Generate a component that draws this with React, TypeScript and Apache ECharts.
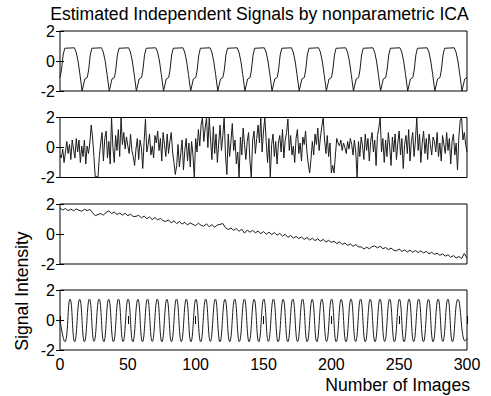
import React, { useEffect, useRef } from "react";
import * as echarts from "echarts";

const TITLE = "Estimated Independent Signals by nonparametric ICA";
const X_LABEL = "Number of Images";
const Y_LABEL = "Signal Intensity";

const X_MIN = 0;
const X_MAX = 300;
const X_STEP = 50;
const Y_MIN = -2;
const Y_MAX = 2;
const Y_STEP = 2;

// Signal 1: square-like wave, vertices [image, value]
const sig1: number[][] = [
  [0, -1.1], [1.1, -0.6], [2.3, 0.4], [3.5, 0.85], [10.6, 0.88], [11.9, 0.6], [13.3, 0.0], [14.7, -0.9],
  [16.3, -2], [18.3, -1.2], [20.1, -1.1], [21.1, -0.6], [22.3, 0.4], [23.5, 0.85], [30.6, 0.88], [31.9, 0.6], [33.3, 0], [34.7, -0.9],
  [36.3, -2], [38.3, -1.2], [40.1, -1.1], [41.1, -0.6], [42.3, 0.4], [43.5, 0.85], [50.6, 0.88], [51.9, 0.6], [53.3, 0], [54.7, -0.9],
  [56.3, -2], [58.3, -1.2], [60.1, -1.1], [61.1, -0.6], [62.3, 0.4], [63.5, 0.85], [70.6, 0.88], [71.9, 0.6], [73.3, 0], [74.7, -0.9],
  [76.3, -2], [78.3, -1.2], [80.1, -1.1], [81.1, -0.6], [82.3, 0.4], [83.5, 0.85], [90.6, 0.88], [91.9, 0.6], [93.3, 0], [94.7, -0.9],
  [96.3, -2], [98.3, -1.2], [100.1, -1.1], [101.1, -0.6], [102.3, 0.4], [103.5, 0.85], [110.6, 0.88], [111.9, 0.6], [113.3, 0], [114.7, -0.9],
  [116.3, -2], [118.3, -1.2], [120.1, -1.1], [121.1, -0.6], [122.3, 0.4], [123.5, 0.85], [130.6, 0.88], [131.9, 0.6], [133.3, 0], [134.7, -0.9],
  [136.3, -2], [138.3, -1.2], [140.1, -1.1], [141.1, -0.6], [142.3, 0.4], [143.5, 0.85], [150.6, 0.88], [151.9, 0.6], [153.3, 0], [154.7, -0.9],
  [156.3, -2], [158.3, -1.2], [160.1, -1.1], [161.1, -0.6], [162.3, 0.4], [163.5, 0.85], [170.6, 0.88], [171.9, 0.6], [173.3, 0], [174.7, -0.9],
  [176.3, -2], [178.3, -1.2], [180.1, -1.1], [181.1, -0.6], [182.3, 0.4], [183.5, 0.85], [190.6, 0.88], [191.9, 0.6], [193.3, 0], [194.7, -0.9],
  [196.3, -2], [198.3, -1.2], [200.1, -1.1], [201.1, -0.6], [202.3, 0.4], [203.5, 0.85], [210.6, 0.88], [211.9, 0.6], [213.3, 0], [214.7, -0.9],
  [216.3, -2], [218.3, -1.2], [220.1, -1.1], [221.1, -0.6], [222.3, 0.4], [223.5, 0.85], [230.6, 0.88], [231.9, 0.6], [233.3, 0], [234.7, -0.9],
  [236.3, -2], [238.3, -1.2], [240.1, -1.1], [241.1, -0.6], [242.3, 0.4], [243.5, 0.85], [250.6, 0.88], [251.9, 0.6], [253.3, 0], [254.7, -0.9],
  [256.3, -2], [258.3, -1.2], [260.1, -1.1], [261.1, -0.6], [262.3, 0.4], [263.5, 0.85], [270.6, 0.88], [271.9, 0.6], [273.3, 0], [274.7, -0.9],
  [276.3, -2], [278.3, -1.2], [280.1, -1.1], [281.1, -0.6], [282.3, 0.4], [283.5, 0.85], [290.6, 0.88], [291.9, 0.6], [293.3, 0], [294.7, -0.9],
  [296.3, -2], [298.3, -1.2], [300, -1.1],
];

// Signal 2: noise-like, one value per image (0..300)
const sig2: number[] = [
  -0.5, -0.7, -0.1, -1.0, -0.3, 0.4, -0.4, 0.2, -0.8, 0.5, -0.1, -0.7, 0.6, -0.3, 0.5, -1.0, 0.1, -0.6, 0.5, -1.1,
  0.1, -0.4, 0.3, 1.5, 0.7, -0.6, -2.0, -1.9, -2.0, -0.6, 0.3, 1.0, -0.9, 0.6, 1.1, -0.7, 0.4, -1.1, 2.0, 0.0,
  -1.0, 0.8, -0.2, 1.2, -0.6, 2.0, 0.2, 1.0, -0.1, 0.7, 0.1, -0.4, 0.9, -0.2, -0.6, -1.2, -0.1, 0.6, -0.8, 0.5,
  0.0, -1.4, 0.4, 1.9, -0.3, 0.2, 0.9, -0.5, 0.1, -0.7, 0.8, 0.3, 1.1, -0.2, 0.6, -0.9, 1.0, 0.2, -0.6, 0.9,
  -0.4, 0.4, 1.0, -0.3, -1.0, -1.8, -1.2, 0.2, -1.3, -0.4, 0.5, -1.5, -0.2, 0.6, -0.9, 0.3, -1.3, 0.4, -0.5, -2.0,
  0.6, -0.3, 1.2, 0.1, 1.5, 2.0, 0.4, 1.3, 2.0, 0.0, 2.0, 0.5, -0.8, 1.4, -0.4, 0.9, -1.0, 0.3, 1.5, -0.2,
  0.8, 2.0, -0.5, -1.8, 0.9, -0.6, 0.4, 1.6, -0.2, 0.5, -1.1, -0.3, -2.0, 0.7, -0.5, 1.3, 0.2, -0.8, 0.4, 1.0,
  -0.9, -2.0, 0.5, 1.1, -0.4, 0.6, 1.5, 0.3, 2.0, -0.3, 1.1, 2.0, 0.4, -1.0, 0.6, -2.0, 0.2, 0.9, -0.6, 0.4,
  -1.1, 0.3, 0.8, -0.3, 1.2, -0.7, 0.5, 1.0, 1.9, -0.2, 0.8, -0.5, 0.1, -1.0, 0.6, 1.2, -0.4, 0.3, -0.9, 0.7,
  0.2, 1.1, -0.3, -1.1, -1.7, -0.8, 0.4, -0.5, 0.9, 0.2, 1.3, -0.2, 0.7, 1.4, 2.0, 0.5, -0.4, 0.8, -0.6, 0.3,
  -1.7, -1.2, -1.7, -0.5, 0.6, 0.3, 0.1, 0.5, -0.2, 0.3, 0.0, -0.4, 0.4, -0.1, 0.6, 0.2, -0.5, 0.5, -0.3, -2.0,
  0.4, -0.6, 0.7, 0.1, -0.8, 0.9, -0.2, 0.6, -0.9, 0.4, 1.0, -0.3, 0.5, -1.2, 0.8, 1.3, 2.0, -0.3, 0.6, -1.0,
  0.5, -0.6, 1.0, 0.1, -1.2, 0.7, -0.3, 0.9, -0.8, 0.3, 1.1, -0.5, 0.6, -1.4, 0.2, 0.8, -0.4, 1.2, -0.9, 0.4,
  1.0, -0.6, 0.5, 2.0, -0.2, 0.9, -1.0, 0.3, 1.1, -0.4, 0.6, -0.8, 0.9, 0.2, -0.5, 0.7, 0.4, -0.3, 1.0, -0.6,
  0.3, -0.9, 0.8, 0.2, -0.4, 1.0, -0.2, 0.6, -1.1, 0.4, 0.9, -0.5, 0.3, -1.5, 0.7, 1.8, 2.0, 0.5, 1.0, 0.2,
  -0.3,
];

// Signal 3: decreasing trend, one value every 2 images (0,2,...,300)
const SIG3_STEP = 2;
const sig3: number[] = [
  1.72, 1.6, 1.7, 1.56, 1.66, 1.55, 1.67, 1.58, 1.52, 1.65, 1.56,
  1.64, 1.42, 1.22, 1.3, 1.36, 1.26, 1.44, 1.54, 1.36, 1.46,
  1.3, 1.4, 1.26, 1.38, 1.22, 1.32, 1.16, 1.18, 1.24, 1.08,
  1.2, 1.02, 1.14, 0.96, 1.1, 0.94, 1.04, 0.88, 0.84, 0.94,
  0.74, 0.88, 0.7, 0.82, 0.66, 0.78, 0.6, 0.74, 0.64, 0.56,
  0.72, 0.58, 0.52, 0.68, 0.48, 0.62, 0.46, 0.6, 0.64, 0.7,
  0.42, 0.3, 0.4, 0.24, 0.36, 0.18, 0.32, 0.06, 0.26, 0.12,
  0.24, 0.08, 0.2, 0.02, 0.16, -0.02, 0.12, -0.04, 0.1, -0.08,
  0.04, -0.14, -0.02, -0.22, -0.1, -0.28, -0.16, -0.3, -0.2, -0.36,
  -0.24, -0.4, -0.28, -0.44, -0.32, -0.48, -0.36, -0.54, -0.42, -0.56,
  -0.48, -0.64, -0.52, -0.7, -0.6, -0.76, -0.66, -0.82, -0.7, -0.86,
  -0.86, -1.0, -0.88, -0.98, -0.84, -0.8, -0.92, -0.82, -0.98, -0.9,
  -1.04, -0.94, -1.08, -1.12, -1.0, -1.16, -1.06, -1.2, -1.08, -1.22,
  -1.1, -1.24, -1.12, -1.26, -1.16, -1.32, -1.22, -1.36, -1.28, -1.42,
  -1.32, -1.48, -1.38, -1.54, -1.44, -1.6, -1.5, -1.64, -1.3, -1.62,
];

// Signal 4: sinusoid, peaks and troughs [image, value]
const sig4: number[][] = [
  [0, 0.0], [3.6, -1.45], [7.4, 1.4], [10.8, -1.45], [14.5, 1.38], [18.0, -1.45], [21.7, 1.4], [25.1, -1.42],
  [28.8, 1.4], [32.3, -1.45], [35.9, 1.38], [39.4, -1.45], [43.1, 1.4], [46.5, -1.44], [50.2, 1.4], [53.7, -1.45],
  [57.4, 1.38], [60.8, -1.45], [64.5, 1.4], [68.0, -1.43], [71.7, 1.4], [75.1, -1.45], [78.8, 1.38], [82.2, -1.45],
  [85.9, 1.4], [89.4, -1.44], [93.1, 1.4], [96.5, -1.45], [100.2, 1.38], [103.7, -1.45], [107.4, 1.4], [110.8, -1.43],
  [114.5, 1.4], [117.9, -1.45], [121.6, 1.38], [125.1, -1.45], [128.8, 1.4], [132.2, -1.44], [135.9, 1.4], [139.4, -1.45],
  [143.1, 1.38], [146.5, -1.45], [150.2, 1.4], [153.6, -1.43], [157.3, 1.4], [160.8, -1.45], [164.5, 1.38], [167.9, -1.45],
  [171.6, 1.4], [175.1, -1.44], [178.8, 1.4], [182.2, -1.45], [185.9, 1.38], [189.3, -1.45], [193.0, 1.4], [196.5, -1.43],
  [200.2, 1.4], [203.6, -1.45], [207.3, 1.38], [210.8, -1.45], [214.5, 1.4], [217.9, -1.44], [221.6, 1.4], [225.0, -1.45],
  [228.7, 1.38], [232.2, -1.45], [235.9, 1.4], [239.3, -1.43], [243.0, 1.4], [246.5, -1.45], [250.2, 1.38], [253.6, -1.45],
  [257.3, 1.4], [260.7, -1.44], [264.4, 1.4], [267.9, -1.45], [271.6, 1.38], [275.0, -1.45], [278.7, 1.4], [282.2, -1.43],
  [285.9, 1.4], [289.3, -1.45], [293.3, 1.38], [298.6, -1.4], [300, -1.2],
];

export default function App() {
  const ref = useRef<HTMLDivElement>(null);

  useEffect(() => {
    if (!ref.current) return;
    const chart = echarts.init(ref.current, null, { renderer: "svg" });
    const font = "'Liberation Sans', Arial, Helvetica, sans-serif";
    const tops = [31, 117.5, 204, 290];
    const gridH = 60;
    const lineColor = "#1c1c1c";
    const labelSize = 17.6;

    const grid = tops.map((t) => ({
      left: 60,
      right: 24,
      top: t,
      height: gridH,
      show: true,
      borderColor: "#000",
      borderWidth: 1,
      backgroundColor: "transparent",
      containLabel: false,
    }));

    const xAxis: any[] = [];
    const yAxis: any[] = [];
    tops.forEach((_, i) => {
      const last = i === tops.length - 1;
      xAxis.push({
        type: "value",
        gridIndex: i,
        position: "bottom",
        min: X_MIN,
        max: X_MAX,
        interval: X_STEP,
        axisLine: { show: false },
        axisTick: { show: last, inside: true, length: 4, lineStyle: { color: "#000" } },
        axisLabel: {
          show: last,
          margin: 6,
          fontSize: 16,
          fontFamily: font,
          color: "#000",
        },
        splitLine: { show: false },
      });
      xAxis.push({
        type: "value",
        gridIndex: i,
        position: "top",
        min: X_MIN,
        max: X_MAX,
        interval: X_STEP,
        axisLine: { show: false },
        axisTick: { show: last, inside: true, length: 4, lineStyle: { color: "#000" } },
        axisLabel: { show: false },
        splitLine: { show: false },
      });
      yAxis.push({
        type: "value",
        gridIndex: i,
        position: "left",
        min: Y_MIN,
        max: Y_MAX,
        interval: Y_STEP,
        axisLine: { show: false },
        axisTick: { show: true, inside: true, length: 4, lineStyle: { color: "#000" } },
        axisLabel: {
          show: true,
          margin: 5,
          fontSize: 16,
          fontFamily: font,
          color: "#000",
        },
        splitLine: { show: false },
      });
      yAxis.push({
        type: "value",
        gridIndex: i,
        position: "right",
        min: Y_MIN,
        max: Y_MAX,
        interval: Y_STEP,
        axisLine: { show: false },
        axisTick: { show: true, inside: true, length: 4, lineStyle: { color: "#000" } },
        axisLabel: { show: false },
        splitLine: { show: false },
      });
    });

    const seriesData = [
      { data: sig1, smooth: false },
      { data: sig2.map((v, i) => [i, v]), smooth: false },
      { data: sig3.map((v, i) => [i * SIG3_STEP, v]), smooth: false },
      { data: sig4, smooth: 0.5 },
    ];

    const series = seriesData.map((s, i) => ({
      type: "line",
      xAxisIndex: i * 2,
      yAxisIndex: i * 2,
      data: s.data,
      smooth: s.smooth,
      showSymbol: false,
      symbol: "none",
      clip: true,
      lineStyle: { color: lineColor, width: 1 },
      emphasis: { disabled: true },
    }));

    chart.setOption({
      animation: false,
      backgroundColor: "#fff",
      grid,
      xAxis,
      yAxis,
      series,
      graphic: [
        {
          type: "text",
          x: 259.5,
          y: 14,
          style: {
            text: TITLE,
            fontSize: labelSize,
            fontFamily: font,
            fill: "#000",
            textAlign: "center",
            textVerticalAlign: "middle",
          },
        },
        {
          type: "text",
          x: 470,
          y: 385,
          style: {
            text: X_LABEL,
            fontSize: labelSize,
            fontFamily: font,
            fill: "#000",
            textAlign: "right",
            textVerticalAlign: "middle",
          },
        },
        {
          type: "text",
          x: 21.5,
          y: 291,
          rotation: Math.PI / 2,
          style: {
            text: Y_LABEL,
            fontSize: labelSize,
            fontFamily: font,
            fill: "#000",
            textAlign: "center",
            textVerticalAlign: "middle",
          },
        },
      ],
    });

    return () => chart.dispose();
  }, []);

  return (
    <div
      ref={ref}
      style={{ position: "fixed", left: 0, top: 0, width: 491, height: 396, background: "#fff" }}
    />
  );
}
